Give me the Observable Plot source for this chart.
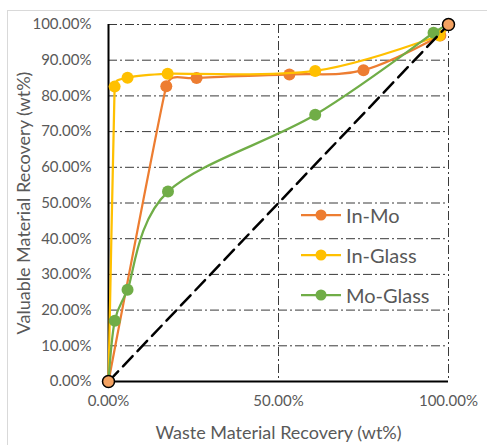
<!DOCTYPE html>
<html><head><meta charset="utf-8">
<script src="https://cdn.jsdelivr.net/npm/d3@7"></script>
<script src="https://cdn.jsdelivr.net/npm/@observablehq/plot@0.6"></script>
<style>
body{margin:0;background:#fff;font-family:Lato,sans-serif}
#wrap{position:relative;width:487px;height:445px;overflow:hidden;background:#fff}
#border{position:absolute;left:7px;top:10px;width:600px;height:600px;border-top:1px solid #d9d9d9;border-left:1px solid #d9d9d9}
#chart{position:absolute;left:0;top:0}
#legend{position:absolute;left:301px;top:195px}
.item{display:flex;align-items:center;height:40px;font-size:20px;color:#595959}
.item svg{margin-right:5px}
</style></head><body>
<div id="wrap"><div id="border"></div><div id="chart"></div><div id="legend"></div></div>
<script>
const seriesNames = ["In-Mo", "In-Glass", "Mo-Glass"];
const seriesColors = ["#ED7D31", "#FFC000", "#70AD47"];
const inMoX = [0, 17.0, 25.9, 53.2, 75.0, 97.6, 100];
const inMoY = [0, 82.7, 85.0, 86.0, 87.2, 96.9, 100];
const inGlassX = [0, 1.8, 5.6, 17.4, 60.8, 97.3, 100];
const inGlassY = [0, 82.6, 85.1, 86.2, 87.0, 96.9, 100];
const moGlassX = [0, 1.85, 5.6, 17.5, 60.8, 95.6, 100];
const moGlassY = [0, 17.0, 25.7, 53.2, 74.7, 97.7, 100];
const diagX = [0, 100];
const diagY = [0, 100];
const xTicks = [0, 50, 100];
const yTicks = [0, 10, 20, 30, 40, 50, 60, 70, 80, 90, 100];
const xGrid = [50, 100];
const yGrid = [10, 20, 30, 40, 50, 60, 70, 80, 90, 100];
const xTitle = "Waste Material Recovery (wt%)";
const yTitle = "Valuable Material Recovery (wt%)";

// Excel-like smoothed line: Catmull-Rom tangents limited by neighbouring segment lengths
function excelSmooth(context) {
  let pts = [];
  return {
    areaStart() {}, areaEnd() {},
    lineStart() { pts = []; },
    point(x, y) { pts.push([+x, +y]); },
    lineEnd() {
      const n = pts.length;
      if (!n) return;
      const T = pts.map((p, i) => {
        if (i === 0 || i === n - 1) return [0, 0];
        const a = pts[i - 1], b = pts[i + 1];
        let tx = (b[0] - a[0]) / 6, ty = (b[1] - a[1]) / 6;
        const d1 = Math.hypot(p[0] - a[0], p[1] - a[1]);
        const d2 = Math.hypot(b[0] - p[0], b[1] - p[1]);
        const len = Math.hypot(tx, ty), lim = 0.5 * Math.min(d1, d2);
        if (len > lim && len > 0) { tx *= lim / len; ty *= lim / len; }
        return [tx, ty];
      });
      context.moveTo(pts[0][0], pts[0][1]);
      for (let i = 0; i < n - 1; i++) {
        const p = pts[i], q = pts[i + 1];
        context.bezierCurveTo(p[0] + T[i][0], p[1] + T[i][1], q[0] - T[i + 1][0], q[1] - T[i + 1][1], q[0], q[1]);
      }
    }
  };
}

const xsAll = [inMoX, inGlassX, moGlassX];
const ysAll = [inMoY, inGlassY, moGlassY];
const seriesData = seriesNames.map((s, i) => xsAll[i].map((x, j) => ({series: s, x, y: ysAll[i][j]})));
const diag = diagX.map((x, i) => ({x, y: diagY[i]}));
const fmt = d => d.toFixed(2) + "%";
const gridStyle = {stroke: "#3a3a3a", strokeWidth: 1, strokeDasharray: "9,3,2,3"};

const seriesMarks = seriesData.flatMap((d, i) => [
  Plot.line(d, {x: "x", y: "y", stroke: seriesColors[i], strokeWidth: 2.25, curve: excelSmooth}),
  Plot.dot(d, {x: "x", y: "y", fill: seriesColors[i], r: 6})
]);

const chart = Plot.plot({
  width: 487, height: 445,
  marginLeft: 108, marginRight: 39, marginTop: 24, marginBottom: 64,
  style: {fontFamily: "Lato, sans-serif", color: "#595959", background: "transparent", overflow: "visible"},
  x: {domain: [0, 100]},
  y: {domain: [0, 100]},
  marks: [
    Plot.ruleY(yGrid, gridStyle),
    Plot.ruleX(xGrid, gridStyle),
    Plot.axisX(xTicks, {tickSize: 0, tickPadding: 14, tickFormat: fmt, fontSize: 15, fill: "#595959", label: null}),
    Plot.axisY(yTicks, {tickSize: 0, tickPadding: 17, tickFormat: fmt, fontSize: 15, fill: "#595959", label: null}),
    Plot.text([xTitle], {text: d => d, frameAnchor: "bottom", textAnchor: "middle", lineAnchor: "middle", dy: 52, fontSize: 18, fill: "#595959"}),
    Plot.text([yTitle], {text: d => d, frameAnchor: "left", textAnchor: "middle", lineAnchor: "middle", rotate: -90, dx: -84, fontSize: 18, fill: "#595959"}),
    Plot.ruleX([0], {stroke: "#000", strokeWidth: 2}),
    Plot.ruleY([0], {stroke: "#000", strokeWidth: 2}),
    ...seriesMarks,
    Plot.line(diag, {x: "x", y: "y", stroke: "#000", strokeWidth: 2.5, strokeDasharray: "14,7"}),
    Plot.dot(diag, {x: "x", y: "y", fill: "#F4A261", stroke: "#000", strokeWidth: 1.5, r: 6})
  ]
});
document.getElementById("chart").appendChild(chart);

const legend = document.getElementById("legend");
seriesNames.forEach((s, i) => {
  const item = document.createElement("div");
  item.className = "item";
  item.innerHTML = `<svg width="40" height="14"><line x1="0" x2="40" y1="7" y2="7" stroke="${seriesColors[i]}" stroke-width="2.25"/><circle cx="20" cy="7" r="5.5" fill="${seriesColors[i]}"/></svg><span>${s}</span>`;
  legend.appendChild(item);
});
</script>
</body></html>
